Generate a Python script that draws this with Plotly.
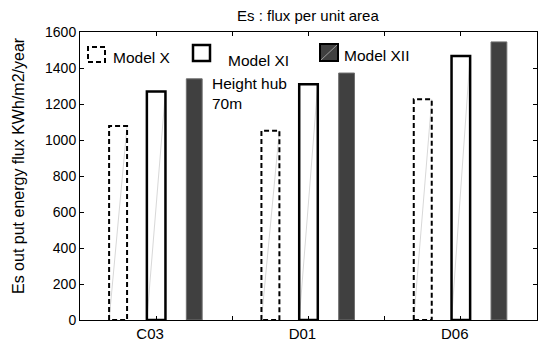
import plotly.graph_objects as go

# ---- data ----
categories = ["C03", "D01", "D06"]
model_x = [1078, 1052, 1226]
model_xi = [1270, 1310, 1467]
model_xii = [1340, 1372, 1545]
series_names = ["Model X", "Model XI", "Model XII"]
y_ticks = [0, 200, 400, 600, 800, 1000, 1200, 1400, 1600]

# ---- layout constants ----
W, H = 539, 346
ML, MR, MT, MB = 80, 2, 32, 26
PW, PH = W - ML - MR, H - MT - MB
FONT = "Liberation Sans, Arial, Helvetica, sans-serif"

pos = [i + 1 for i in range(len(categories))]
offsets = [-0.25, 0.0, 0.25]
widths = [0.118, 0.122, 0.104]


def px(xp):
    return (xp - ML) / PW


def py(yp):
    return (H - MB - yp) / PH


fig = go.Figure()


def rect_outline(xs, vals, w):
    X, Y = [], []
    for c, v in zip(xs, vals):
        l, r = c - w / 2, c + w / 2
        X += [l, l, r, r, l, None]
        Y += [0, v, v, 0, 0, None]
    return X, Y


def diag(xs, vals, w):
    X, Y = [], []
    for c, v in zip(xs, vals):
        X += [c - w / 2, c + w / 2, None]
        Y += [0, v, None]
    return X, Y


# Model X: white bars with dashed outline
xs0 = [p + offsets[0] for p in pos]
fig.add_bar(x=xs0, y=model_x, width=widths[0], marker=dict(color="white", line=dict(width=0)),
            showlegend=False, hoverinfo="skip")
dx, dy = diag(xs0, model_x, widths[0])
fig.add_scatter(x=dx, y=dy, mode="lines", line=dict(color="#d8d8d8", width=1), showlegend=False, hoverinfo="skip")
ox, oy = rect_outline(xs0, model_x, widths[0])
fig.add_scatter(x=ox, y=oy, mode="lines", line=dict(color="black", width=2, dash="5px,3px"),
                name=series_names[0], showlegend=False)

# Model XI: white bars with solid outline
xs1 = [p + offsets[1] for p in pos]
fig.add_bar(x=xs1, y=model_xi, width=widths[1], marker=dict(color="white", line=dict(width=0)),
            showlegend=False, hoverinfo="skip")
dx, dy = diag(xs1, model_xi, widths[1])
fig.add_scatter(x=dx, y=dy, mode="lines", line=dict(color="#d8d8d8", width=1), showlegend=False, hoverinfo="skip")
ox, oy = rect_outline(xs1, model_xi, widths[1])
fig.add_scatter(x=ox, y=oy, mode="lines", line=dict(color="black", width=2.5),
                name=series_names[1], showlegend=False)

# Model XII: dark filled bars
xs2 = [p + offsets[2] for p in pos]
fig.add_bar(x=xs2, y=model_xii, width=widths[2], marker=dict(color="#404040", line=dict(color="#707070", width=1)),
            name=series_names[2], showlegend=False)

# ---- legend (drawn manually) ----
shapes = []
annotations = []
# Model X icon
shapes.append(dict(type="rect", xref="paper", yref="paper", x0=px(88), x1=px(105), y0=py(62), y1=py(47),
                   line=dict(color="black", width=2, dash="5px,3px"), fillcolor="white", layer="above"))
annotations.append(dict(xref="paper", yref="paper", x=px(111), y=py(57), text=series_names[0], showarrow=False,
                        xanchor="left", yanchor="middle", font=dict(size=15.5, color="black", family=FONT)))
# Model XI icon
shapes.append(dict(type="rect", xref="paper", yref="paper", x0=px(193), x1=px(210), y0=py(61), y1=py(45),
                   line=dict(color="black", width=2.5), fillcolor="white", layer="above"))
annotations.append(dict(xref="paper", yref="paper", x=px(226), y=py(61), text=series_names[1], showarrow=False,
                        xanchor="left", yanchor="middle", font=dict(size=15.5, color="black", family=FONT)))
# Model XII icon
shapes.append(dict(type="rect", xref="paper", yref="paper", x0=px(320), x1=px(338), y0=py(61), y1=py(44),
                   line=dict(color="black", width=2), fillcolor="#404040", layer="above"))
shapes.append(dict(type="line", xref="paper", yref="paper", x0=px(321), x1=px(337), y0=py(60), y1=py(45),
                   line=dict(color="#9a9a9a", width=1), layer="above"))
annotations.append(dict(xref="paper", yref="paper", x=px(342), y=py(55), text=series_names[2], showarrow=False,
                        xanchor="left", yanchor="middle", font=dict(size=15.5, color="black", family=FONT)))
# Height hub note
annotations.append(dict(xref="paper", yref="paper", x=px(210), y=py(93), text="Height hub<br>70m", showarrow=False,
                        xanchor="left", yanchor="middle", align="left",
                        font=dict(size=15.5, color="black", family=FONT)))
# Title
annotations.append(dict(xref="paper", yref="paper", x=px(308), y=py(15), text="Es : flux per unit area",
                        showarrow=False, xanchor="center", yanchor="middle",
                        font=dict(size=15, color="black", family=FONT)))
# Y axis title
annotations.append(dict(xref="paper", yref="paper", x=px(18), y=py(166), text="Es out put energy flux KWh/m2/year",
                        showarrow=False, xanchor="center", yanchor="middle", textangle=-90,
                        font=dict(size=16, color="black", family=FONT)))

fig.update_layout(
    width=W, height=H,
    margin=dict(l=ML, r=MR, t=MT, b=MB, pad=0),
    paper_bgcolor="white", plot_bgcolor="white",
    barmode="overlay",
    showlegend=False,
    shapes=shapes,
    annotations=annotations,
    font=dict(family=FONT, color="black"),
)
fig.update_xaxes(
    range=[0.5, 3.5],
    tickmode="array",
    tickvals=[p - 0.04 for p in pos],
    ticktext=categories,
    ticks="", ticklen=0,
    minor=dict(tickvals=[1, 1.5, 2, 2.5, 3], ticks="inside", ticklen=4, tickcolor="black", showgrid=False),
    showline=True, linecolor="black", linewidth=1, mirror="ticks",
    showgrid=False, zeroline=False,
    tickfont=dict(size=15, color="black", family=FONT),
)
fig.update_yaxes(
    range=[0, 1600],
    tickmode="array", tickvals=y_ticks,
    ticks="inside", ticklen=4, tickcolor="black",
    showline=True, linecolor="black", linewidth=1, mirror="ticks",
    showgrid=False, zeroline=False,
    tickfont=dict(size=14, color="black", family=FONT),
)

fig.write_html("out.html")
